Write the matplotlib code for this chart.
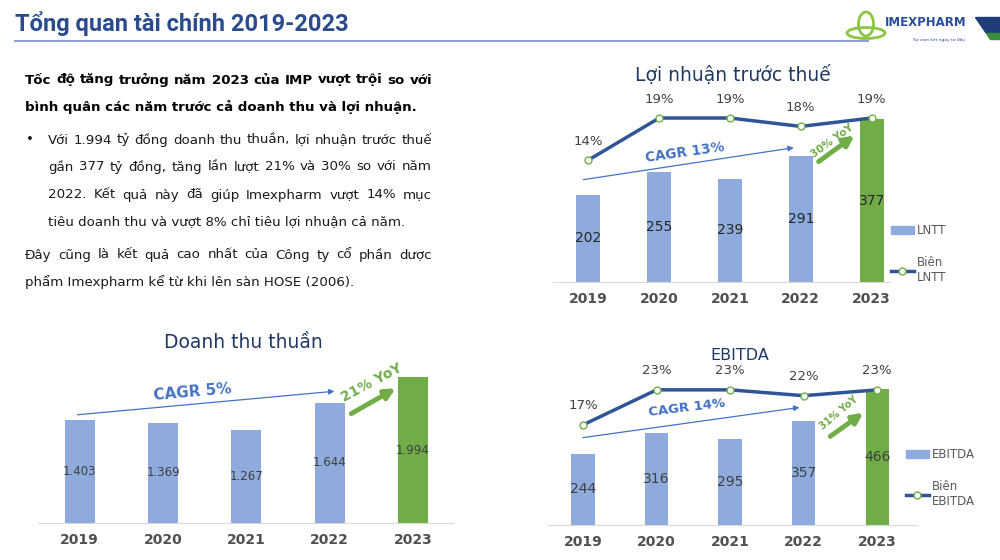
import numpy as np
import matplotlib.pyplot as plt
from matplotlib.lines import Line2D
from matplotlib.patches import Patch, Polygon, Ellipse

plt.rcParams['font.family'] = ['DejaVu Sans']

# data
years = ['2019', '2020', '2021', '2022', '2023']
doanh_thu = [1403, 1369, 1267, 1644, 1994]   # tỷ đồng
lntt = [202, 255, 239, 291, 377]
bien_lntt = [14, 19, 19, 18, 19]            # %
ebitda = [244, 316, 295, 357, 466]
bien_ebitda = [17, 23, 23, 22, 23]          # %

W, H = 1000, 560
BAR = '#8FAADC'
GREEN = '#70AD47'
LINE = '#2F5597'
NAVY = '#1F3864'
GREY = '#595959'
CAGR_BLUE = '#4472C4'

fig = plt.figure(figsize=(10, 5.6), dpi=100)

# full-figure axes in pixel units for the slide decoration / text
bg = fig.add_axes([0, 0, 1, 1], zorder=-1)
bg.set_xlim(0, W)
bg.set_ylim(H, 0)
bg.axis('off')


def px_axes(l, t, r, b):
    a = fig.add_axes([l / W, 1 - b / H, (r - l) / W, (b - t) / H])
    a.patch.set_alpha(0)
    return a


def justify(line, x0, x1, y, **kw):
    words = line.split()
    texts = [bg.text(0, y, w, va='center', ha='left', **kw) for w in words]
    r = fig.canvas.get_renderer()
    widths = [t.get_window_extent(r).width for t in texts]
    gap = (x1 - x0 - sum(widths)) / (len(words) - 1)
    x = x0
    for t, w in zip(texts, widths):
        t.set_x(x)
        x += w + gap


# ---- header
bg.text(15, 24, 'Tổng quan tài chính 2019-2023', fontsize=17, fontweight='bold',
        family=['Roboto', 'DejaVu Sans'], color='#2B4C8C', va='center')
bg.plot([15, 868], [41, 41], color='#8FA3CC', lw=1.5)
bg.add_patch(Ellipse((866, 33), 38, 11, fill=False, ec='#8DC63F', lw=2))
bg.add_patch(Ellipse((866, 24), 15, 24, fill=False, ec='#8DC63F', lw=2))
bg.text(885, 23, 'IMEXPHARM', fontsize=8.5, fontweight='bold', color='#2B4DA0', va='center')
bg.text(913, 40, 'Sự cam kết ngay từ đầu', fontsize=3.2, color='#2B4DA0', va='center')
bg.add_patch(Polygon([(975, 17), (1000, 17), (1000, 33), (986, 33)], color='#1F3D7A'))
bg.add_patch(Polygon([(986, 33), (1000, 33), (1000, 39), (990, 39)], color='#3A8F3A'))

# ---- text block
body = dict(fontsize=9.6, color='#1A1A1A')
justify('Tốc độ tăng trưởng năm 2023 của IMP vượt trội so với', 25, 432, 80,
        fontsize=9.6, fontweight='bold', color='black')
bg.text(25, 107, 'bình quân các năm trước cả doanh thu và lợi nhuận.', va='center',
        fontsize=9.6, fontweight='bold', color='black')
bg.text(26, 140, '•', va='center', **body)
justify('Với 1.994 tỷ đồng doanh thu thuần, lợi nhuận trước thuế', 48, 432, 140, **body)
justify('gần 377 tỷ đồng, tăng lần lượt 21% và 30% so với năm', 48, 432, 167, **body)
justify('2022. Kết quả này đã giúp Imexpharm vượt 14% mục', 48, 432, 195, **body)
bg.text(48, 222, 'tiêu doanh thu và vượt 8% chỉ tiêu lợi nhuận cả năm.', va='center', **body)
justify('Đây cũng là kết quả cao nhất của Công ty cổ phần dược', 25, 432, 255, **body)
bg.text(25, 282, 'phẩm Imexpharm kể từ khi lên sàn HOSE (2006).', va='center', **body)


def bar_chart(rect, vals, xlim, ymax, width, fmt, vsize, vcolor):
    ax = px_axes(*rect)
    x = np.arange(len(years))
    ax.bar(x, vals, width=width, color=[BAR] * 4 + [GREEN])
    ax.set_xlim(xlim)
    ax.set_ylim(0, ymax)
    for s in ['top', 'right', 'left']:
        ax.spines[s].set_visible(False)
    ax.spines['bottom'].set_color('#D9D9D9')
    ax.set_yticks([])
    ax.set_xticks(x, years, fontweight='bold', fontsize=10, color='#505050')
    ax.tick_params(axis='x', length=0, pad=7)
    for xi, v in zip(x, vals):
        ax.text(xi, v / 2, fmt(v), ha='center', va='center', fontsize=vsize, color=vcolor)
    return ax


def margin_line(ax, vals, lim):
    ax2 = ax.twinx()
    x = np.arange(len(vals))
    ax2.plot(x, vals, color=LINE, lw=2.5, marker='o', ms=5, mfc='white', mec=GREEN, mew=1)
    ax2.set_ylim(lim)
    ax2.axis('off')
    for xi, v in zip(x, vals):
        ax2.annotate(f'{v}%', (xi, v), xytext=(0, 9), textcoords='offset points',
                     ha='center', va='bottom', fontsize=9.5, color='#404040')
    return ax2


def arrows(ax, cagr_from, cagr_to, cagr_txt, cagr_xy, cagr_rot, cagr_size,
           yoy_from, yoy_to, yoy_txt, yoy_xy, yoy_rot, yoy_size):
    ax.annotate('', xy=cagr_to, xytext=cagr_from,
                arrowprops=dict(arrowstyle='-|>', color=CAGR_BLUE, lw=0.9, mutation_scale=8))
    ax.text(*cagr_xy, cagr_txt, rotation=cagr_rot, color=CAGR_BLUE, fontweight='bold',
            fontsize=cagr_size, ha='center', va='center', rotation_mode='anchor')
    ax.annotate('', xy=yoy_to, xytext=yoy_from,
                arrowprops=dict(arrowstyle='-|>', color=GREEN, lw=3.5, mutation_scale=15))
    ax.text(*yoy_xy, yoy_txt, rotation=yoy_rot, color=GREEN, fontweight='bold',
            fontsize=yoy_size, ha='center', va='center', rotation_mode='anchor')


def legend(ax, labels, anchor):
    handles = [Patch(color=BAR),
               Line2D([], [], color=LINE, lw=2.5, marker='o', ms=5, mfc='white', mec=GREEN)]
    ax.legend(handles, labels, loc='center left', bbox_to_anchor=(anchor[0] / W, 1 - anchor[1] / H),
              bbox_transform=fig.transFigure, frameon=False, fontsize=8.5, labelcolor=GREY,
              handlelength=2, handletextpad=0.2, labelspacing=1.6)


# ---- Lợi nhuận trước thuế
bg.text(733, 75, 'Lợi nhuận trước thuế', fontsize=13.5, color=NAVY, ha='center', va='center')
ax1 = bar_chart((553, 95, 890, 282), lntt, (-0.5, 4.26), 433, 0.34, str, 10, '#262626')
margin_line(ax1, bien_lntt, (-0.52, 21.74))
arrows(ax1, (-0.11, 236), (2.94, 312), 'CAGR 13%', (1.36, 299), 8, 9.8,
       (3.22, 275), (3.79, 343), '30% YoY', (3.45, 326), 36, 7.5)
legend(ax1, ['LNTT', 'Biên\nLNTT'], (880, 254))

# ---- Doanh thu thuần
bg.text(243, 343, 'Doanh thu thuần', fontsize=13.5, color=NAVY, ha='center', va='center')
ax2 = bar_chart((38, 355, 453, 523), doanh_thu, (-0.5, 4.48), 2295, 0.36,
                lambda v: f'{v:,}'.replace(',', '.'), 8.5, '#404040')
arrows(ax2, (-0.06, 1475), (3.09, 1803), 'CAGR 5%', (1.35, 1790), 5, 11,
       (3.23, 1475), (3.82, 1858), '21% YoY', (3.51, 1912), 28, 10)

# ---- EBITDA
bg.text(740, 355, 'EBITDA', fontsize=11.5, color=NAVY, ha='center', va='center')
ax3 = bar_chart((548, 370, 917, 525), ebitda, (-0.476, 4.54), 531, 0.32, str, 10, '#404040')
margin_line(ax3, bien_ebitda, (-0.15, 26.4))
arrows(ax3, (-0.04, 298), (2.98, 404), 'CAGR 14%', (1.41, 401), 7, 9.5,
       (3.33, 298), (3.84, 390), '31% YoY', (3.48, 383), 40, 7)
legend(ax3, ['EBITDA', 'Biên\nEBITDA'], (895, 478))

fig.savefig('out.png', dpi=100, facecolor='white')
